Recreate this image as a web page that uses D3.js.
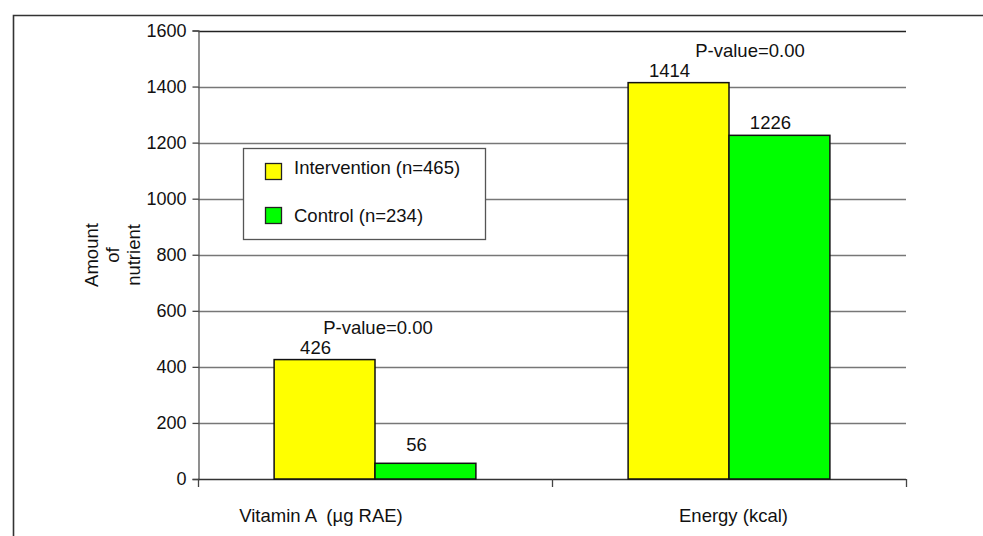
<!DOCTYPE html>
<html>
<head>
<meta charset="utf-8">
<script src="https://cdn.jsdelivr.net/npm/d3@7"></script>
<style>
  html, body { margin: 0; padding: 0; background: #fff; }
  svg { display: block; }
  text { font-family: "Liberation Sans", Arial, sans-serif; fill: #111; }
</style>
</head>
<body>
<svg id="chart" width="983" height="536"></svg>
<script>
const categories = ["Vitamin A  (\u00b5g RAE)", "Energy (kcal)"];
const seriesNames = ["Intervention (n=465)", "Control (n=234)"];
const intervention = [426, 1414];
const control = [56, 1226];
const pValues = ["P-value=0.00", "P-value=0.00"];
const yTicks = [0, 200, 400, 600, 800, 1000, 1200, 1400, 1600];
const colors = ["#ffff00", "#00ff00"];

const svg = d3.select("#chart");
const W = 983, H = 536;
const m = { left: 198, right: 906, top: 30.5, bottom: 479 };
const FS = "18.5px";

// outer frame
svg.append("path")
  .attr("d", `M13.5,${H + 5} V15.5 H${W + 5}`)
  .attr("fill", "none").attr("stroke", "#333").attr("stroke-width", 1.6);

const y = d3.scaleLinear().domain([0, 1600]).range([m.bottom, m.top]);
const x0 = d3.scaleBand().domain(categories).range([m.left, m.right])
  .paddingInner(0.43).paddingOuter(0.215);
const x1 = d3.scaleBand().domain(seriesNames).range([0, x0.bandwidth()]);

// gridlines
svg.append("g").selectAll("line").data(yTicks.filter(d => d > 0)).join("line")
  .attr("x1", m.left).attr("x2", m.right)
  .attr("y1", d => Math.round(y(d)) + 0.5).attr("y2", d => Math.round(y(d)) + 0.5)
  .attr("stroke", d => d === 1600 ? "#222" : "#777").attr("stroke-width", 1.3);

// y axis
const yAxis = d3.axisLeft(y).tickValues(yTicks).tickSize(6).tickPadding(6).tickFormat(d3.format("d"));
const gy = svg.append("g").attr("transform", `translate(${m.left + 0.5},0)`).call(yAxis);
gy.select(".domain").attr("stroke", "#555").attr("stroke-width", 1.3);
gy.selectAll(".tick line").attr("stroke", "#444").attr("stroke-width", 1.3);
gy.selectAll(".tick text").style("font-size", "18px").attr("fill", "#111")
  .style("font-family", "'Liberation Sans', Arial, sans-serif");

// x axis line + ticks at category boundaries
const gx = svg.append("g");
gx.append("line").attr("x1", m.left).attr("x2", m.right)
  .attr("y1", m.bottom + 0.5).attr("y2", m.bottom + 0.5)
  .attr("stroke", "#333").attr("stroke-width", 1.4);
const tickX = [m.left].concat(categories.map((c, i) => m.left + x0.step() * (i + 1)));
gx.selectAll("line.t").data(tickX).join("line").attr("class", "t")
  .attr("x1", d => d + 0.5).attr("x2", d => d + 0.5)
  .attr("y1", m.bottom).attr("y2", m.bottom + 8)
  .attr("stroke", "#444").attr("stroke-width", 1.3);

// category labels
const catDx = [-54, 4.5];
svg.append("g").selectAll("text").data(categories).join("text")
  .attr("x", (d, i) => x0(d) + x0.bandwidth() / 2 + catDx[i])
  .attr("y", 522)
  .attr("text-anchor", "middle")
  .style("white-space", "pre")
  .attr("xml:space", "preserve")
  .style("font-size", FS)
  .text(d => d);

// bars
const data = categories.map((c, i) => ({ cat: c, vals: [intervention[i], control[i]] }));
const groups = svg.append("g").selectAll("g").data(data).join("g")
  .attr("transform", d => `translate(${x0(d.cat)},0)`);
groups.selectAll("rect").data(d => d.vals.map((v, j) => ({ v, s: seriesNames[j], j }))).join("rect")
  .attr("x", d => x1(d.s))
  .attr("y", d => y(d.v))
  .attr("width", x1.bandwidth())
  .attr("height", d => y(0) - y(d.v))
  .attr("fill", d => colors[d.j])
  .attr("stroke", "#111").attr("stroke-width", 1.5);

// value labels
groups.selectAll("text.v").data(d => d.vals.map((v, j) => ({ v, s: seriesNames[j], j }))).join("text")
  .attr("class", "v")
  .attr("x", d => x1(d.s) + x1.bandwidth() / 2 - 9)
  .attr("y", d => y(d.v) - (d.v < 100 ? 12 : 6))
  .attr("text-anchor", "middle")
  .style("font-size", FS)
  .text(d => d.v);

// p-values
const pDx = [3, 21];
svg.append("g").selectAll("text").data(categories).join("text")
  .attr("x", (d, i) => x0(d) + x0.bandwidth() / 2 + pDx[i])
  .attr("y", (d, i) => y(Math.max(intervention[i], control[i])) - 26)
  .attr("text-anchor", "middle")
  .style("font-size", FS)
  .text((d, i) => pValues[i]);

// y title
const yt = svg.append("text")
  .attr("transform", "translate(98,255) rotate(-90)")
  .attr("text-anchor", "middle")
  .style("font-size", FS);
["Amount", "of", "nutrient"].forEach((t, i) => {
  yt.append("tspan").attr("x", 0).attr("y", i * 21).text(t);
});

// legend
const lg = svg.append("g");
lg.append("rect").attr("x", 243.5).attr("y", 148.5).attr("width", 242).attr("height", 91)
  .attr("fill", "#fff").attr("stroke", "#555").attr("stroke-width", 1.3);
seriesNames.forEach((s, i) => {
  lg.append("rect").attr("x", 265.5).attr("y", 163.5 + i * 44).attr("width", 16).attr("height", 16)
    .attr("fill", colors[i]).attr("stroke", "#222").attr("stroke-width", 1.3);
  lg.append("text").attr("x", 294).attr("y", 174 + i * 48).style("font-size", FS).text(s);
});
</script>
</body>
</html>
